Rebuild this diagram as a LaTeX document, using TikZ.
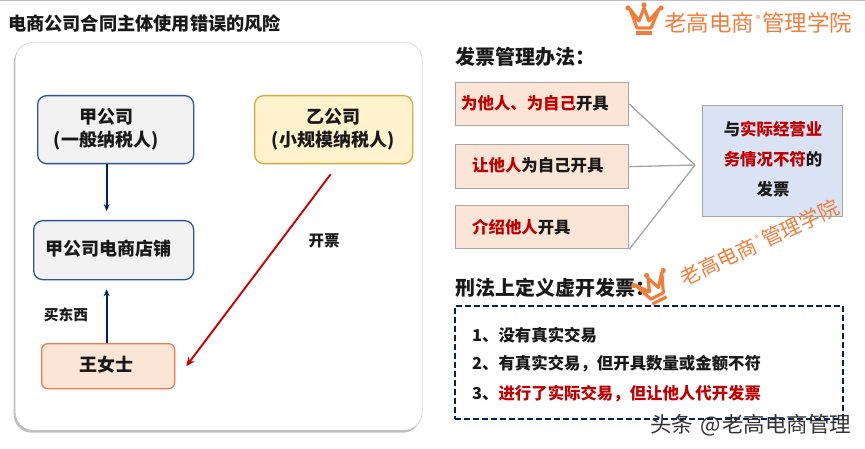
\documentclass[tikz,border=0pt]{standalone}
\usepackage{fontspec}
\usetikzlibrary{arrows.meta, positioning, calc, shadows}
\setmainfont{Noto Sans CJK SC}
\definecolor{panelgray}{RGB}{190, 190, 190}
\definecolor{boxblue}{RGB}{47, 85, 151}
\definecolor{boxgold}{RGB}{214, 170, 60}
\definecolor{boxorange}{RGB}{237, 125, 80}
\definecolor{fillgray}{RGB}{242, 242, 242}
\definecolor{fillgold}{RGB}{255, 242, 204}
\definecolor{fillorange}{RGB}{251, 229, 214}
\definecolor{fillblue}{RGB}{218, 227, 243}
\definecolor{navyline}{RGB}{0, 32, 96}
\definecolor{textred}{RGB}{192, 0, 0}
\definecolor{linered}{RGB}{204, 0, 0}
\definecolor{markorange}{RGB}{240, 125, 60}
\definecolor{linegray}{RGB}{165, 165, 165}
\newcommand{\red}[1]{\textcolor{textred}{#1}}
\newcommand{\brandname}{老高电商\hspace{2pt}\raisebox{9pt}{\fontsize{9}{9}\selectfont ®}\hspace{2pt}管理学院}
\tikzset{
    partybox/.style={
        draw, rounded corners=9pt, line width=1.3pt, anchor=north west
    },
    rulebox/.style={
        draw=linegray, fill=fillorange, line width=1.3pt, anchor=north west
    },
    partytext/.style={
        font=\fontsize{18}{23}\selectfont\bfseries, align=center, text=black!90
    },
    ruletext/.style={
        font=\fontsize{16.4}{20}\selectfont\bfseries, text=black!90, inner sep=0pt
    },
    headtext/.style={
        font=\fontsize{20}{24}\selectfont\bfseries, text=black!90, inner sep=0pt, anchor=west
    },
    flow/.style={
        -{Stealth[length=7pt, width=6pt]}, navyline, line width=1.8pt
    },
    brandtext/.style={
        font=\fontsize{22.5}{26}\selectfont, text=markorange, inner sep=0pt, anchor=west
    },
    crown/.pic={
        \draw[markorange, line width=3.2pt, line join=round, line cap=round]
            (-14,-10) -- (-7,9) -- (7,9) -- (15,-10) -- (5,2) -- (0,-11) -- (-5,2) -- cycle;
        \draw[markorange, line width=3.2pt] (-8,14) -- (8,14);
        \fill[markorange] (-16,-11) circle (2.6) (0,-14) circle (2.6) (17,-11) circle (2.6);
    }
}
\begin{document}
\begin{tikzpicture}[x=1pt, y=-1pt]
    \useasboundingbox (0,0) rectangle (865,449);
    \draw[panelgray, line width=1.5pt] (0,0.5) -- (865,0.5);

    % --- left panel ---
    \node[headtext, font=\fontsize{18.2}{22}\selectfont\bfseries] (title) at (8,24) {电商公司合同主体使用错误的风险};
    \node[draw=panelgray, fill=white, rounded corners=18pt, minimum width=407pt, minimum height=388pt,
        anchor=north west, drop shadow={shadow xshift=-1.5pt, shadow yshift=-2.5pt, fill=black!50}] (panel) at (15,42) {};

    \node[partybox, draw=boxblue, fill=fillgray, minimum width=156pt, minimum height=68pt] (jia) at (37,95) {};
    \node[partytext] (jiatext) at (106,129) {甲公司\\(一般纳税人)};
    \node[partybox, draw=boxgold, fill=fillgold, minimum width=158pt, minimum height=68pt] (yi) at (254,95) {};
    \node[partytext] (yitext) at (333,129) {乙公司\\(小规模纳税人)};
    \node[partybox, draw=boxblue, fill=fillgray, minimum width=160pt, minimum height=59pt] (shop) at (33,220) {};
    \node[partytext] (shoptext) at (108.5,249) {甲公司电商店铺};
    \node[partybox, draw=boxorange, fill=fillorange, rounded corners=6pt, minimum width=133pt, minimum height=45pt] (wang) at (41,343) {};
    \node[partytext] (wangtext) at (106.5,365) {王女士};

    \draw[flow] ([xshift=-9pt]jia.south) -- ([xshift=-7pt, yshift=9pt]shop.north);
    \draw[flow] ([xshift=-1.5pt]wang.north) -- ([xshift=-7pt, yshift=-9pt]shop.south);
    \draw[-{Stealth[length=9pt, width=8pt]}, linered, line width=1.9pt]
        ([xshift=-3pt, yshift=-10pt]yi.south) -- ([xshift=11pt]wang.east);

    \node[ruletext, font=\fontsize{15.5}{18}\selectfont\bfseries] (invoice) at (324,241) {开票};
    \node[ruletext, font=\fontsize{14.7}{18}\selectfont\bfseries] (buy) at (66,315) {买东西};

    % --- right side ---
    \node[headtext] (mgmt) at (455,57) {发票管理办法：};
    \node[rulebox, minimum width=173pt, minimum height=43pt] (ruleA) at (455,82) {};
    \node[rulebox, minimum width=173pt, minimum height=44pt] (ruleB) at (455,144) {};
    \node[rulebox, minimum width=173pt, minimum height=43pt] (ruleC) at (455,205) {};
    \node[ruletext, anchor=west] (ruleAtext) at (461,103) {\red{为他人、为自己}开具};
    \node[ruletext, anchor=west] (ruleBtext) at (472,165) {\red{让他人}为自己开具};
    \node[ruletext, anchor=west] (ruleCtext) at (472,227) {\red{介绍他人}开具};

    \node[rulebox, fill=fillblue, minimum width=140pt, minimum height=111pt] (result) at (702,105) {};
    \node[ruletext, align=center, font=\fontsize{16.4}{30}\selectfont\bfseries] (resulttext) at (773,159)
        {与\red{实际经营业}\\\red{务情况不符}的\\发票};

    \coordinate (hub) at (695,165);
    \draw[linegray, line width=1.3pt] (ruleA.east) -- (hub);
    \draw[linegray, line width=1.3pt] (ruleB.east) -- (hub);
    \draw[linegray, line width=1.3pt] (ruleC.south east) -- (hub);

    \node[headtext] (crime) at (455,288) {刑法上定义虚开发票：};
    \node[draw=navyline, dash pattern=on 6pt off 3pt, line width=1.8pt, minimum width=388pt, minimum height=113pt, anchor=north west] (crimebox) at (454,305) {};
    \node[ruletext, anchor=west] (crimeA) at (472,335) {1、没有真实交易};
    \node[ruletext, anchor=west] (crimeB) at (472,364) {2、有真实交易，但开具数量或金额不符};
    \node[ruletext, anchor=west] (crimeC) at (472,394) {3、\red{进行了实际交易，但让他人代开发票}};

    % --- watermarks ---
    \pic at (644,19) {crown};
    \node[brandtext] (brandA) at (664,23) {\brandname};
    \pic[rotate=27] at (653,288) {crown};
    \node[brandtext, font=\fontsize{20.5}{24}\selectfont, rotate=25] (brandB) at (681,279) {\brandname};
    \node[font=\fontsize{21.5}{24}\selectfont, text=black!80, inner sep=0pt, anchor=west] (source) at (650,425) {头条\hspace{2pt} @\hspace{2pt}老高电商管理};
\end{tikzpicture}
\end{document}
